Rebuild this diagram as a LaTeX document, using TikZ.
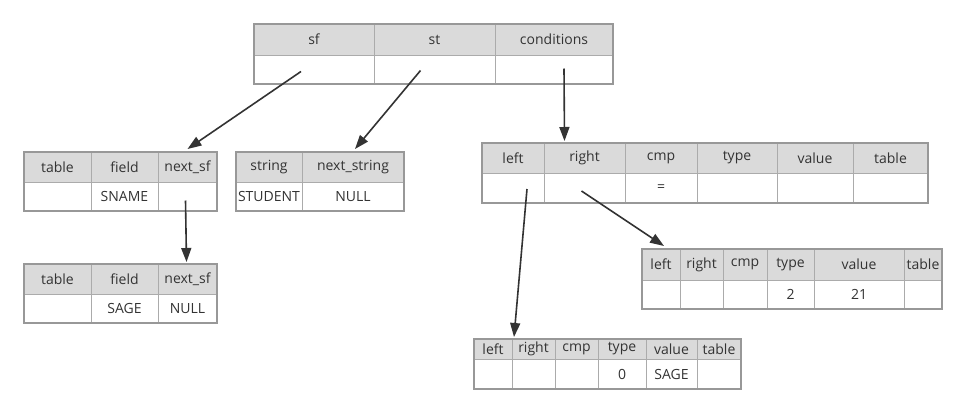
\documentclass[tikz,border=0pt]{standalone}
\usepackage{fontspec}
\setmainfont{Open Sans}
\usetikzlibrary{arrows.meta}
\definecolor{txt}{HTML}{333333}
\definecolor{hfill}{HTML}{DADADA}
\definecolor{inner}{HTML}{ABABAB}
\definecolor{outer}{HTML}{989898}
\definecolor{arr}{HTML}{333333}
\tikzset{
  cellbase/.style={draw=inner, line width=1pt, inner sep=0pt, outer sep=0pt, text=txt,
    font=\fontsize{14}{16}\selectfont},
  hcell/.style={cellbase, fill=hfill},
  vcell/.style={cellbase, fill=white},
  tblframe/.style={draw=outer, line width=2pt},
  link/.style={draw=arr, line width=1.6pt, -{Triangle[length=14pt,width=10pt]}},
}
% #1 name, #2 x1, #3 x2, #4 y1, #5 y2, #6 y3, #7 header, #8 value
\newcommand\mycol[8]{%
  \node[hcell, minimum width={(#3-#2)*1pt}, minimum height={(#5-#4)*1pt}]
    (#1H) at ({(#2+#3)/2},{(#4+#5)/2}) {\makebox[0pt]{#7}};
  \node[vcell, minimum width={(#3-#2)*1pt}, minimum height={(#6-#5)*1pt}]
    (#1V) at ({(#2+#3)/2},{(#5+#6)/2}) {\makebox[0pt]{#8}};
}
\newcommand\tblbox[4]{\draw[tblframe] (#1,#2) rectangle (#3,#4);}
\begin{document}
\begin{tikzpicture}[x=1pt,y=-1pt]
\useasboundingbox (0,0) rectangle (967,413);
% top table
\mycol{topA}{254}{374}{24}{55}{84}{sf}{}
\mycol{topB}{374}{495}{24}{55}{84}{st}{}
\mycol{topC}{495}{613}{24}{55}{84}{conditions}{}
\tblbox{254}{24}{613}{84}
% sf table 1
\mycol{sfA}{24}{91}{152}{182}{211}{table}{}
\mycol{sfB}{91}{158}{152}{182}{211}{field}{SNAME}
\mycol{sfC}{158}{217}{152}{182}{211}{next\_sf}{}
\tblbox{24}{152}{217}{211}
% sf table 2
\mycol{sfbA}{24}{91}{264}{294}{323}{table}{}
\mycol{sfbB}{91}{158}{264}{294}{323}{field}{SAGE}
\mycol{sfbC}{158}{217}{264}{294}{323}{next\_sf}{NULL}
\tblbox{24}{264}{217}{323}
% string table
\mycol{stA}{236}{302}{152}{182}{211}{string}{STUDENT}
\mycol{stB}{302}{404}{152}{182}{211}{next\_string}{NULL}
\tblbox{236}{152}{404}{211}
% conditions table
\mycol{cdA}{482}{544}{143}{173}{203}{left}{}
\mycol{cdB}{544}{625}{143}{173}{203}{right}{}
\mycol{cdC}{625}{697}{143}{173}{203}{cmp}{=}
\mycol{cdD}{697}{777}{143}{173}{203}{type}{}
\mycol{cdE}{777}{853}{143}{173}{203}{value}{}
\mycol{cdF}{853}{928}{143}{173}{203}{table}{}
\tblbox{482}{143}{928}{203}
% right sub-condition
\mycol{rsA}{642}{680}{249}{280}{309}{left}{}
\mycol{rsB}{680}{723}{249}{280}{309}{right}{}
\mycol{rsC}{723}{767}{249}{280}{309}{cmp}{}
\mycol{rsD}{767}{814}{249}{280}{309}{type}{2}
\mycol{rsE}{814}{904}{249}{280}{309}{value}{21}
\mycol{rsF}{904}{942}{249}{280}{309}{table}{}
\tblbox{642}{249}{942}{309}
% left sub-condition
\mycol{lsA}{474}{512}{339}{359}{389}{left}{}
\mycol{lsB}{512}{555}{339}{359}{389}{right}{}
\mycol{lsC}{555}{598}{339}{359}{389}{cmp}{}
\mycol{lsD}{598}{646}{339}{359}{389}{type}{0}
\mycol{lsE}{646}{697}{339}{359}{389}{value}{SAGE}
\mycol{lsF}{697}{741}{339}{359}{389}{table}{}
\tblbox{474}{339}{741}{389}
% connectors
\draw[link] ([xshift=-13pt,yshift=-2pt]topAV.center) -- ([yshift=3pt]sfCH.north);
\draw[link] ([xshift=-14pt,yshift=-1pt]topBV.center) -- ([xshift=2pt,yshift=3pt]stBH.north);
\draw[link] ([xshift=10pt,yshift=1pt]topCV.center) -- ([xshift=-20pt,yshift=2pt]cdBH.north);
\draw[link] ([xshift=-2pt,yshift=-4pt]sfCV.center) -- ([xshift=-1pt,yshift=2pt]sfbCH.north);
\draw[link] ([xshift=14pt,yshift=-1pt]cdAV.center) -- ([xshift=2pt,yshift=2pt]lsAH.north east);
\draw[link] ([xshift=-3pt,yshift=-3pt]cdBV.center) -- ([xshift=3pt,yshift=3pt]rsAH.north);
\end{tikzpicture}
\end{document}
